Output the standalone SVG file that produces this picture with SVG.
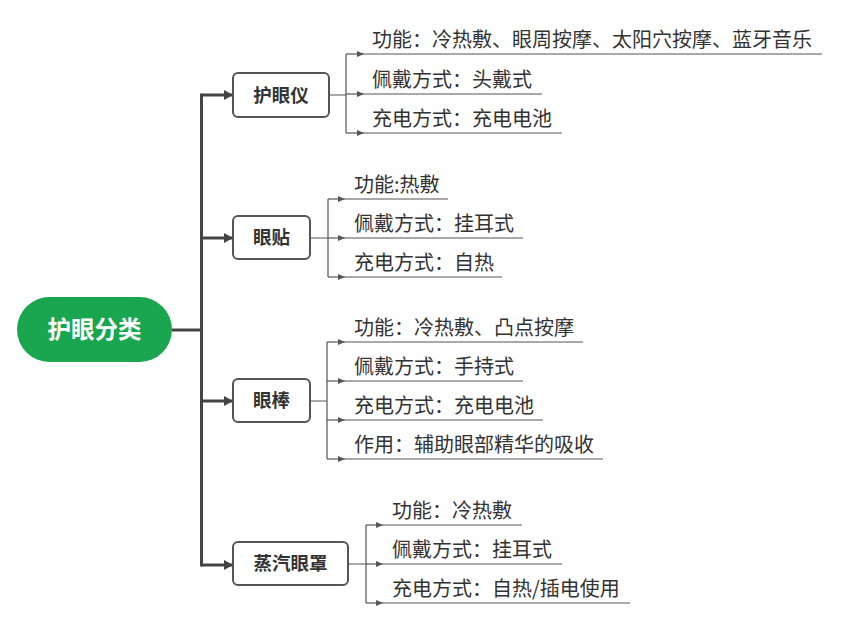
<svg xmlns="http://www.w3.org/2000/svg" width="842" height="618" viewBox="0 0 842 618">
<defs>
<style>
.trunk{fill:none;stroke:#444;stroke-width:3}
.br{fill:none;stroke:#555;stroke-width:1.2}
.ul{fill:none;stroke:#555;stroke-width:1.2}
.box{fill:#fff;stroke:#555;stroke-width:2}
.nt{font-family:"Noto Sans CJK SC","Microsoft YaHei",sans-serif;font-size:18.5px;font-weight:bold;fill:#333;text-anchor:middle}
.lt{font-family:"Noto Sans CJK SC","Microsoft YaHei",sans-serif;font-size:20px;fill:#333}
.rt{font-family:"Noto Sans CJK SC","Microsoft YaHei",sans-serif;font-size:23.5px;font-weight:bold;fill:#fff;text-anchor:middle}
</style>
<marker id="big" markerWidth="10" markerHeight="10" refX="8" refY="5" orient="auto" markerUnits="userSpaceOnUse">
<path d="M0,0 L9,5 L0,10 Z" fill="#444"/>
</marker>
<marker id="sm" markerWidth="8" markerHeight="8" refX="7" refY="4" orient="auto" markerUnits="userSpaceOnUse">
<path d="M0,1 L7,4 L0,7 Z" fill="#555"/>
</marker>
</defs>
<rect width="842" height="618" fill="#fff"/>
<g id="connectors">
<path class="trunk" d="M172,330 H201.5"/>
<path class="trunk" d="M201.5,93.5 V566.5"/>
<path class="trunk" d="M201.5,95 H232" marker-end="url(#big)"/>
<path class="trunk" d="M201.5,238 H232" marker-end="url(#big)"/>
<path class="trunk" d="M201.5,401 H232" marker-end="url(#big)"/>
<path class="trunk" d="M201.5,565 H232" marker-end="url(#big)"/>
<!-- 护眼仪 leaves -->
<path class="br" d="M329,95 H346 M346,54 V133"/>
<path class="br" d="M346,54 H364" marker-end="url(#sm)"/>
<path class="br" d="M346,94 H364" marker-end="url(#sm)"/>
<path class="br" d="M346,133 H364" marker-end="url(#sm)"/>
<path class="ul" d="M364,54 H822 M364,94 H542 M364,133 H562"/>
<!-- 眼贴 leaves -->
<path class="br" d="M310,238 H328 M328,199 V277"/>
<path class="br" d="M328,199 H345" marker-end="url(#sm)"/>
<path class="br" d="M328,238 H345" marker-end="url(#sm)"/>
<path class="br" d="M328,277 H345" marker-end="url(#sm)"/>
<path class="ul" d="M345,199 H448 M345,238 H523 M345,277 H502"/>
<!-- 眼棒 leaves -->
<path class="br" d="M310,401 H327 M327,342 V459"/>
<path class="br" d="M327,342 H345" marker-end="url(#sm)"/>
<path class="br" d="M327,381 H345" marker-end="url(#sm)"/>
<path class="br" d="M327,420 H345" marker-end="url(#sm)"/>
<path class="br" d="M327,459 H345" marker-end="url(#sm)"/>
<path class="ul" d="M345,342 H583 M345,381 H523 M345,420 H543 M345,459 H603"/>
<!-- 蒸汽眼罩 leaves -->
<path class="br" d="M348,564 H366 M366,525 V603"/>
<path class="br" d="M366,525 H383" marker-end="url(#sm)"/>
<path class="br" d="M366,564 H383" marker-end="url(#sm)"/>
<path class="br" d="M366,603 H383" marker-end="url(#sm)"/>
<path class="ul" d="M383,525 H522 M383,564 H562 M383,603 H630"/>
</g>
<g id="root">
<rect x="17" y="297" width="155" height="65" rx="32.5" fill="#19a64f"/>
<text class="rt" x="94.5" y="338">护眼分类</text>
</g>
<g id="n1">
<rect class="box" x="233" y="73" width="96" height="44" rx="5"/>
<text class="nt" x="281" y="101.5">护眼仪</text>
</g>
<g id="n1-leaves">
<text class="lt" x="372" y="46.5">功能：冷热敷、眼周按摩、太阳穴按摩、蓝牙音乐</text>
<text class="lt" x="372" y="86.5">佩戴方式：头戴式</text>
<text class="lt" x="372" y="125.5">充电方式：充电电池</text>
</g>
<g id="n2">
<rect class="box" x="233" y="216" width="77" height="43" rx="5"/>
<text class="nt" x="271.5" y="244">眼贴</text>
</g>
<g id="n2-leaves">
<text class="lt" x="354" y="191.5">功能:热敷</text>
<text class="lt" x="354" y="230.5">佩戴方式：挂耳式</text>
<text class="lt" x="354" y="269.5">充电方式：自热</text>
</g>
<g id="n3">
<rect class="box" x="233" y="379" width="77" height="43" rx="5"/>
<text class="nt" x="271.5" y="407">眼棒</text>
</g>
<g id="n3-leaves">
<text class="lt" x="354" y="334.5">功能：冷热敷、凸点按摩</text>
<text class="lt" x="354" y="373.5">佩戴方式：手持式</text>
<text class="lt" x="354" y="412.5">充电方式：充电电池</text>
<text class="lt" x="354" y="451.5">作用：辅助眼部精华的吸收</text>
</g>
<g id="n4">
<rect class="box" x="233" y="542" width="115" height="43" rx="5"/>
<text class="nt" x="290.5" y="570">蒸汽眼罩</text>
</g>
<g id="n4-leaves">
<text class="lt" x="392" y="517.5">功能：冷热敷</text>
<text class="lt" x="392" y="556.5">佩戴方式：挂耳式</text>
<text class="lt" x="392" y="595.5">充电方式：自热/插电使用</text>
</g>
</svg>
